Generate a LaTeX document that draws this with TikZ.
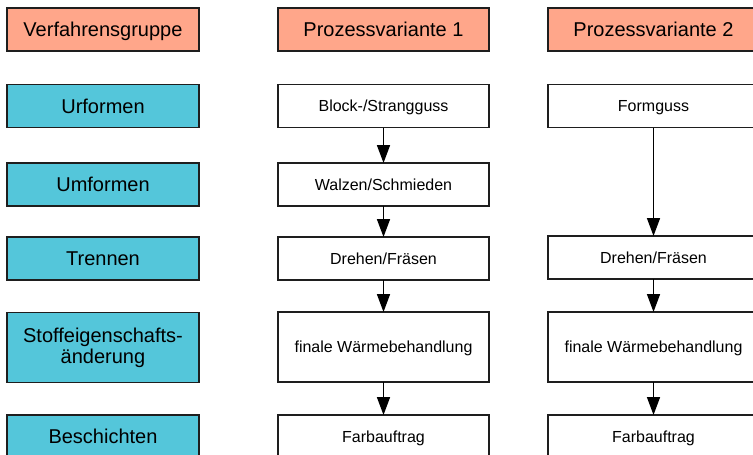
\documentclass[tikz,border=0pt]{standalone}
\usepackage{fontspec}
\setmainfont{Liberation Sans}
\usetikzlibrary{arrows.meta}
\definecolor{salmon}{RGB}{255,166,138}
\definecolor{cyanbox}{RGB}{84,198,218}
\definecolor{edge}{RGB}{30,30,30}
\begin{document}
\begin{tikzpicture}[x=1pt,y=-1pt,
  base/.style={draw=edge,line width=1.3pt,inner sep=0pt,outer sep=0pt,text depth=0pt},
  headbox/.style={base,fill=salmon,minimum width=211pt,minimum height=43pt,font=\fontsize{20}{21}\selectfont,text height=14.4pt},
  groupbox/.style={base,fill=cyanbox,minimum width=192pt,minimum height=43pt,font=\fontsize{20}{21}\selectfont,text height=14.4pt},
  procbox/.style={base,fill=white,minimum width=211pt,minimum height=43pt,font=\fontsize{16}{19}\selectfont,text height=11.5pt},
  flow/.style={line width=1.6pt,-{Triangle[length=18pt,width=13pt]}}]
\useasboundingbox (0,0) rectangle (753,455);
\clip (0,0) rectangle (753,455);
% left column
\node[groupbox,fill=salmon] (g0) at (103,29.5) {Verfahrensgruppe};
\node[groupbox] (g1) at (103,106) {Urformen};
\node[groupbox] (g2) at (103,184.5) {Umformen};
\node[groupbox] (g3) at (103,258.5) {Trennen};
\node[groupbox,minimum height=70pt,align=center,text height=,text depth=] (g4) at (103,347.5) {Stoffeigenschafts-\\änderung};
\node[groupbox] (g5) at (103,436.5) {Beschichten};
% middle column
\node[headbox] (p0) at (383.5,29.5) {Prozessvariante 1};
\node[procbox] (a1) at (383.5,106) {Block-/Strangguss};
\node[procbox] (a2) at (383.5,184.5) {Walzen/Schmieden};
\node[procbox] (a3) at (383.5,258.5) {Drehen/Fräsen};
\node[procbox,minimum height=70pt] (a4) at (383.5,347) {finale Wärmebehandlung};
\node[procbox] (a5) at (383.5,436.5) {Farbauftrag};
% right column
\node[headbox] (q0) at (653.5,29.5) {Prozessvariante 2};
\node[procbox] (b1) at (653.5,106) {Formguss};
\node[procbox] (b3) at (653.5,257.5) {Drehen/Fräsen};
\node[procbox,minimum height=70pt] (b4) at (653.5,347) {finale Wärmebehandlung};
\node[procbox] (b5) at (653.5,436.5) {Farbauftrag};
% arrows
\draw[flow] (a1) -- (a2);
\draw[flow] (a2) -- (a3);
\draw[flow] (a3) -- (a4);
\draw[flow] (a4) -- (a5);
\draw[flow] (b1) -- (b3);
\draw[flow] (b3) -- (b4);
\draw[flow] (b4) -- (b5);
\end{tikzpicture}
\end{document}
